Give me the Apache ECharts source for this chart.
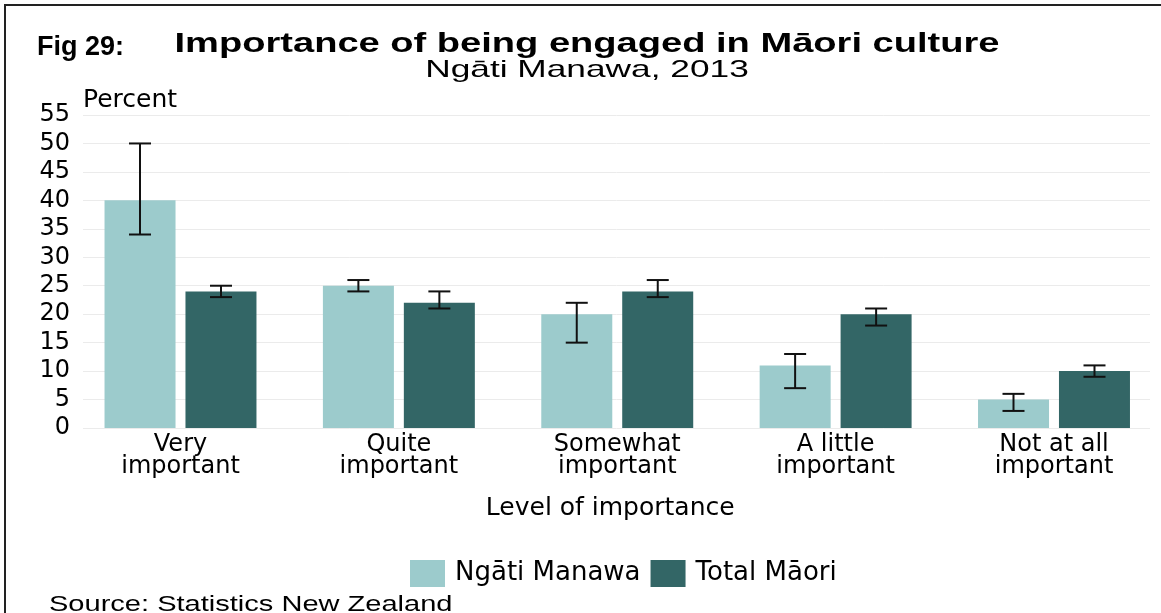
<!DOCTYPE html>
<html>
<head>
<meta charset="utf-8">
<script src="https://cdn.jsdelivr.net/npm/echarts@6/dist/echarts.min.js"></script>
<style>
  html, body { margin: 0; padding: 0; background: #fff; }
  #chart { width: 1161px; height: 613px; }
</style>
</head>
<body>
<div id="chart"></div>
<script>
  // data
  const categories = ['Very\nimportant', 'Quite\nimportant', 'Somewhat\nimportant', 'A little\nimportant', 'Not at all\nimportant'];
  const ngatiValues = [40, 25, 20, 11, 5];
  const ngatiLow = [34, 24, 15, 7, 3];
  const ngatiHigh = [50, 26, 22, 13, 6];
  const totalValues = [24, 22, 24, 20, 10];
  const totalLow = [23, 21, 23, 18, 9];
  const totalHigh = [25, 24, 26, 21, 11];
  const yMin = 0, yMax = 55, yStep = 5;

  const chart = echarts.init(document.getElementById('chart'));

  const axisFont = 'DejaVu Sans';
  const barW = 71;
  const capHalf = 11;
  const errStyle = { stroke: '#111', lineWidth: 2 };

  // error bar drawn at the dodged bar position
  function errorBar(offset) {
    return function (params, api) {
      const i = api.value(0);
      const lo = api.coord([i, api.value(1)]);
      const hi = api.coord([i, api.value(2)]);
      const x = lo[0] + offset;
      return {
        type: 'group',
        children: [
          { type: 'line', shape: { x1: x, y1: hi[1], x2: x, y2: lo[1] }, style: errStyle },
          { type: 'line', shape: { x1: x - capHalf, y1: hi[1], x2: x + capHalf, y2: hi[1] }, style: errStyle },
          { type: 'line', shape: { x1: x - capHalf, y1: lo[1], x2: x + capHalf, y2: lo[1] }, style: errStyle }
        ]
      };
    };
  }

  const option = {
    animation: false,
    backgroundColor: '#fff',
    graphic: [
      { type: 'polyline', shape: { points: [[5, 613], [5, 5], [1161, 5]] }, style: { stroke: '#222', lineWidth: 2, fill: null } },
      { type: 'text', x: 37, y: 48, style: { text: 'Fig 29:', font: 'bold 27px "Liberation Sans"', fill: '#000', textVerticalAlign: 'middle' } },
      { type: 'text', x: 587, y: 45, scaleX: 1.41, style: { text: 'Importance of being engaged in Māori culture', font: 'bold 27px "Liberation Sans"', fill: '#000', textAlign: 'center', textVerticalAlign: 'middle' } },
      { type: 'text', x: 587, y: 70, scaleX: 1.47, style: { text: 'Ngāti Manawa, 2013', font: '24px "Liberation Sans"', fill: '#000', textAlign: 'center', textVerticalAlign: 'middle' } },
      { type: 'text', x: 49, y: 605, scaleX: 1.32, style: { text: 'Source: Statistics New Zealand', font: '22px "Liberation Sans"', fill: '#000', textVerticalAlign: 'middle' } }
    ],
    legend: {
      data: ['Ngāti Manawa', 'Total Māori'],
      left: 410,
      top: 560,
      padding: 0,
      itemWidth: 35,
      itemHeight: 27,
      itemGap: 10,
      icon: 'rect',
      textStyle: { fontFamily: axisFont, fontSize: 26, color: '#000', padding: [0, 0, 0, 5] }
    },
    grid: [
      { left: 83, right: 11, top: 115, bottom: 185 },
      { left: 180.5, right: 107, top: 115, bottom: 185 }
    ],
    xAxis: [
      { gridIndex: 0, type: 'value', min: 0, max: 1, show: false },
      {
        gridIndex: 1,
        type: 'category',
        data: categories,
        boundaryGap: false,
        axisLine: { show: false },
        axisTick: { show: false },
        axisLabel: { fontFamily: axisFont, fontSize: 24, color: '#000', lineHeight: 22, margin: 6 },
        name: 'Level of importance',
        nameLocation: 'middle',
        nameGap: 68,
        nameTextStyle: { fontFamily: axisFont, fontSize: 25, color: '#000', padding: [0, 14, 0, 0] }
      }
    ],
    yAxis: [
      {
        gridIndex: 0,
        type: 'value',
        min: yMin,
        max: yMax,
        interval: yStep,
        axisLine: { show: false },
        axisTick: { show: false },
        axisLabel: { fontFamily: axisFont, fontSize: 24, color: '#000', margin: 13 },
        splitLine: { lineStyle: { color: '#ebebeb', width: 1 } },
        name: 'Percent',
        nameLocation: 'end',
        nameGap: 15,
        nameTextStyle: { fontFamily: axisFont, fontSize: 25, color: '#000', align: 'left', verticalAlign: 'middle' }
      },
      { gridIndex: 1, type: 'value', min: yMin, max: yMax, show: false }
    ],
    series: [
      {
        name: 'Ngāti Manawa',
        type: 'bar',
        xAxisIndex: 1,
        yAxisIndex: 1,
        data: ngatiValues,
        barWidth: barW,
        barGap: '14%',
        itemStyle: { color: '#9ccbcc' }
      },
      {
        name: 'Total Māori',
        type: 'bar',
        xAxisIndex: 1,
        yAxisIndex: 1,
        data: totalValues,
        barWidth: barW,
        barGap: '14%',
        itemStyle: { color: '#336666' }
      },
      {
        type: 'custom',
        xAxisIndex: 1,
        yAxisIndex: 1,
        z: 5,
        silent: true,
        renderItem: errorBar(-40.5),
        data: ngatiLow.map((lo, i) => [i, lo, ngatiHigh[i]])
      },
      {
        type: 'custom',
        xAxisIndex: 1,
        yAxisIndex: 1,
        z: 5,
        silent: true,
        renderItem: errorBar(40.5),
        data: totalLow.map((lo, i) => [i, lo, totalHigh[i]])
      }
    ]
  };

  chart.setOption(option);
</script>
</body>
</html>
